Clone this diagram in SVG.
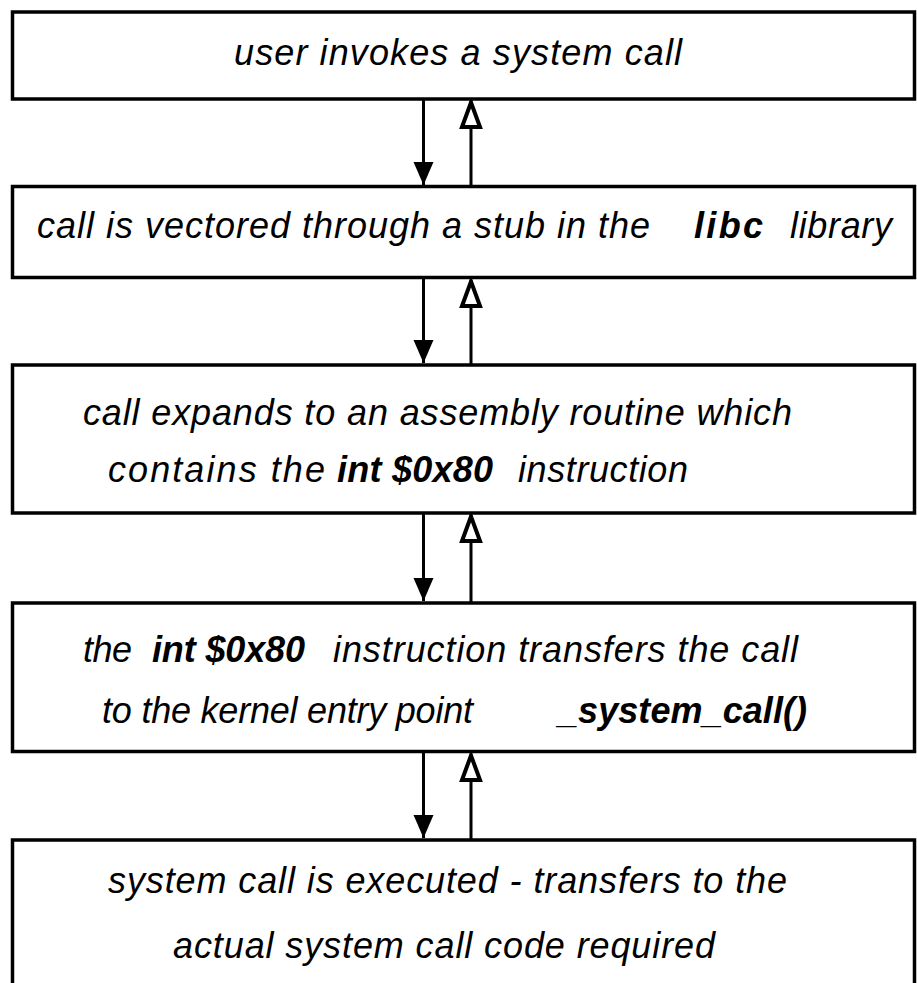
<svg xmlns="http://www.w3.org/2000/svg" width="917" height="983" viewBox="0 0 917 983">
<style>
.box{fill:#fff;stroke:#000;stroke-width:3.5}
.t{font-family:"Liberation Sans",Arial,sans-serif;font-style:italic;font-size:36px;fill:#000}
.b{font-weight:bold}
.ln{stroke:#000;stroke-width:3;fill:none}
.dn{marker-end:url(#headDown)}
.up{marker-end:url(#headUp)}
</style>
<defs>
<marker id="headDown" markerUnits="userSpaceOnUse" markerWidth="34" markerHeight="30" viewBox="-30 -15 34 30" refX="0" refY="0" orient="auto">
<path d="M0,0 L-23,-10 L-23,10 Z" fill="#000"/>
</marker>
<marker id="headUp" markerUnits="userSpaceOnUse" markerWidth="36" markerHeight="30" viewBox="-32 -15 36 30" refX="0" refY="0" orient="auto">
<path d="M-1.5,0 L-26,-9 L-26,9 Z" fill="#fff" stroke="#000" stroke-width="4" stroke-linejoin="miter"/>
</marker>
</defs>
<rect width="917" height="983" fill="#fff"/>
<g id="connectors">
<line class="ln dn" x1="423.5" y1="99" x2="423.5" y2="185"/>
<line class="ln up" x1="471" y1="186.5" x2="471" y2="101"/>
<line class="ln dn" x1="423.5" y1="277.5" x2="423.5" y2="363"/>
<line class="ln up" x1="471" y1="365" x2="471" y2="280"/>
<line class="ln dn" x1="423.5" y1="513" x2="423.5" y2="601"/>
<line class="ln up" x1="471" y1="603" x2="471" y2="515"/>
<line class="ln dn" x1="423.5" y1="751.5" x2="423.5" y2="838"/>
<line class="ln up" x1="471" y1="840" x2="471" y2="754"/>
</g>
<g id="n1">
<rect class="box" x="12.5" y="12" width="902" height="87"/>
<text class="t" x="234" y="65" textLength="448">user invokes a system call</text>
</g>
<g id="n2">
<rect class="box" x="12.5" y="186.5" width="902" height="91"/>
<text class="t" x="37" y="238" textLength="613">call is vectored through a stub in the</text>
<text class="t b" x="694" y="238" textLength="69">libc</text>
<text class="t" x="790" y="238" textLength="102">library</text>
</g>
<g id="n3">
<rect class="box" x="12.5" y="365" width="902" height="148"/>
<text class="t" x="83" y="425" textLength="709">call expands to an assembly routine which</text>
<text class="t" x="108" y="482" textLength="217">contains the</text>
<text class="t b" x="337" y="482" textLength="156">int $0x80</text>
<text class="t" x="518" y="482" textLength="170">instruction</text>
</g>
<g id="n4">
<rect class="box" x="12.5" y="603" width="902" height="148.5"/>
<text class="t" x="83" y="662" textLength="49">the</text>
<text class="t b" x="152" y="662" textLength="153">int $0x80</text>
<text class="t" x="333" y="662" textLength="465">instruction transfers the call</text>
<text class="t" x="102" y="723" textLength="371">to the kernel entry point</text>
<text class="t b" x="558" y="723" textLength="249">_system_call()</text>
</g>
<g id="n5">
<rect class="box" x="12.5" y="840" width="902" height="160"/>
<text class="t" x="108" y="893" textLength="679">system call is executed - transfers to the</text>
<text class="t" x="173" y="958" textLength="542">actual system call code required</text>
</g>
</svg>
